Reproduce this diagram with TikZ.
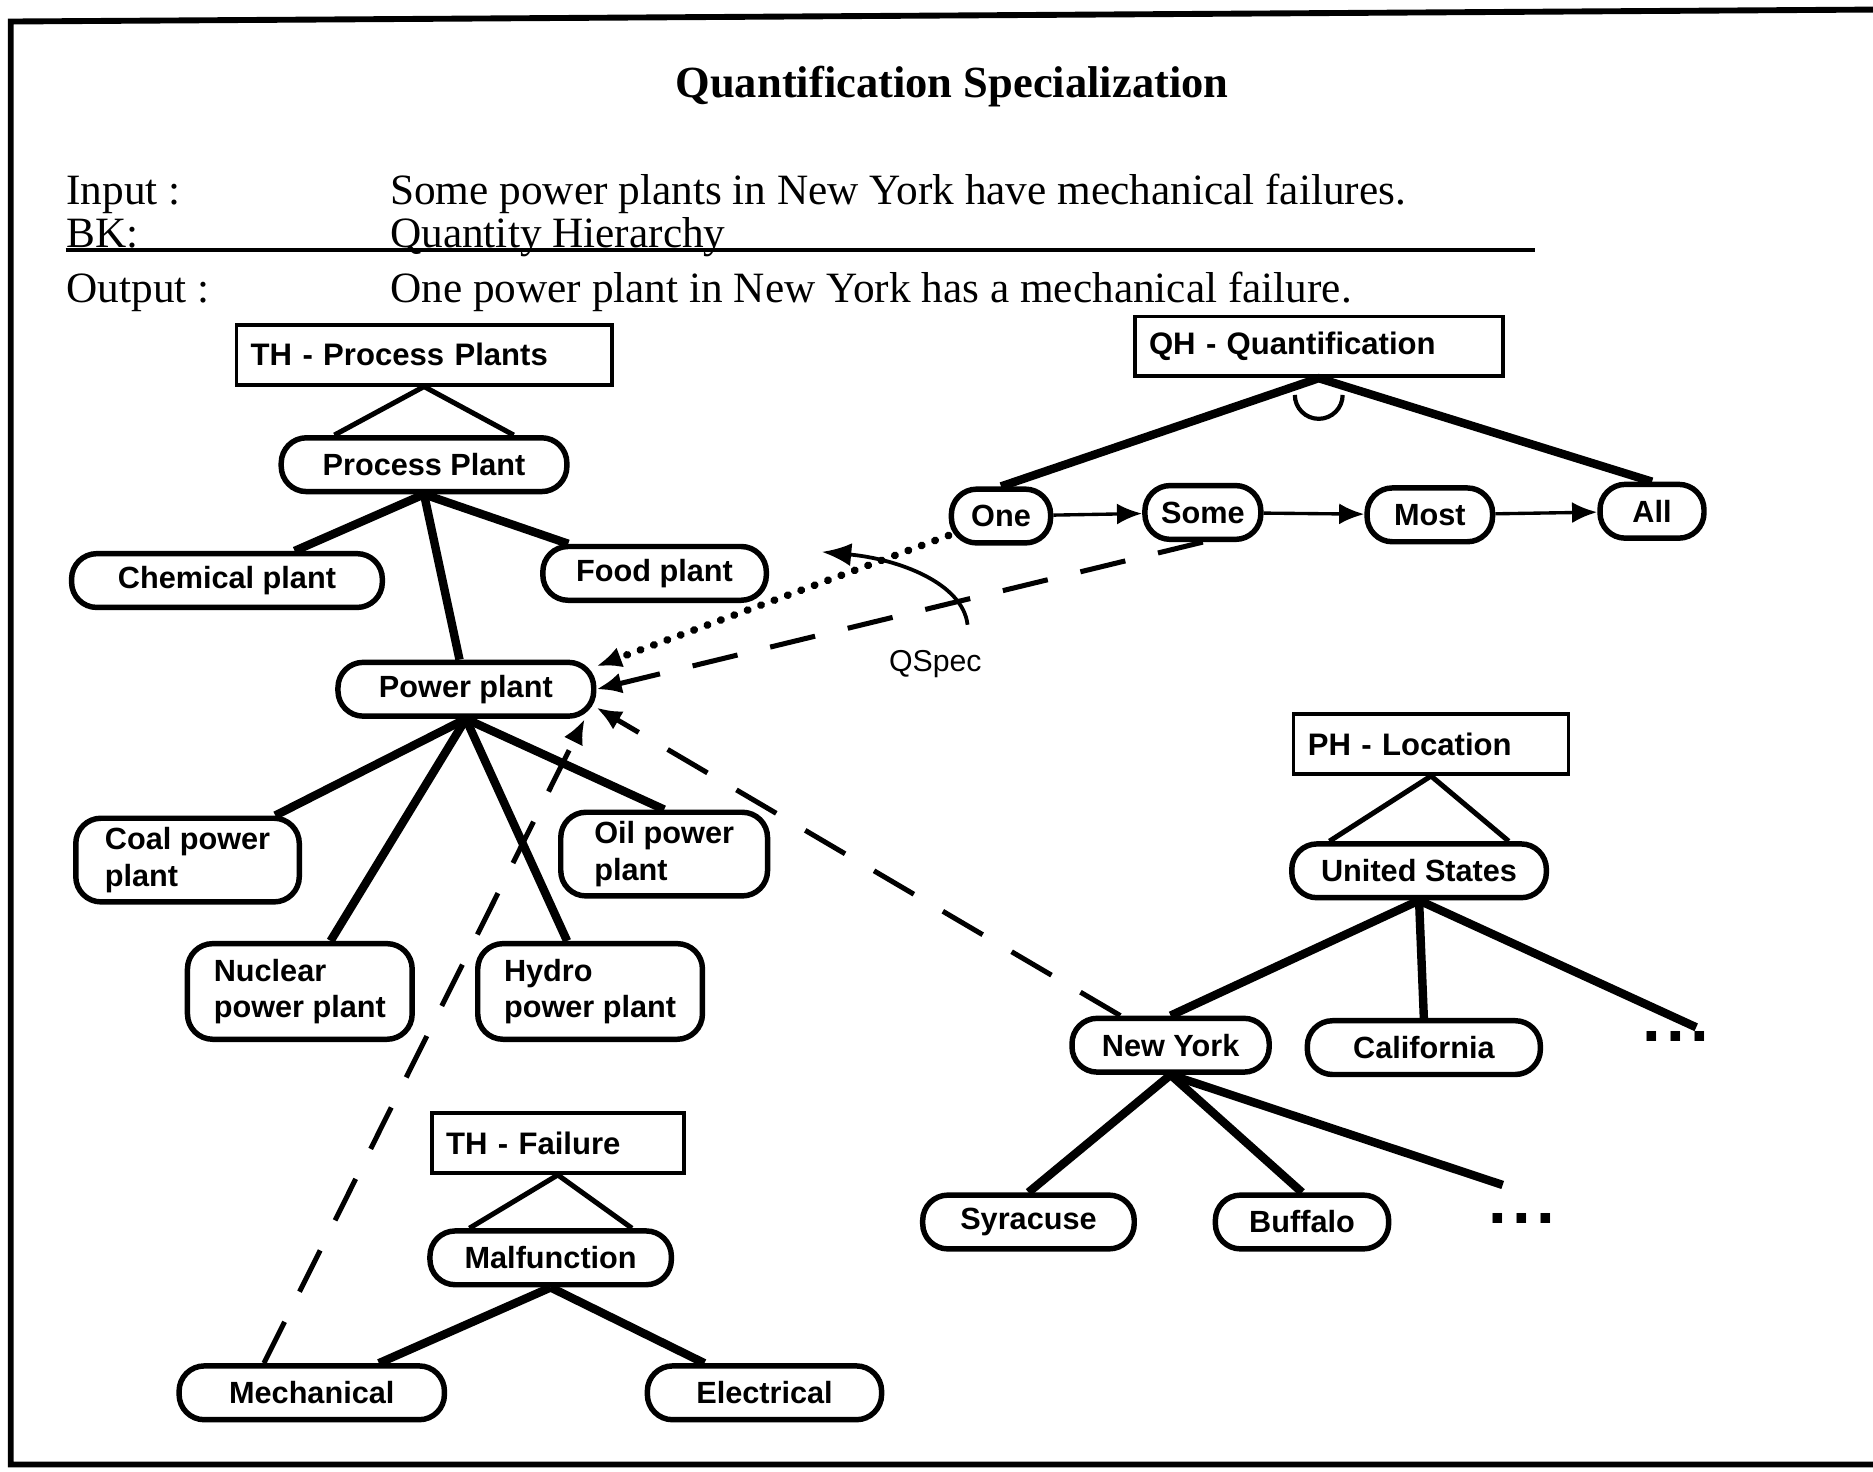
\documentclass[tikz,border=0pt]{standalone}
\usepackage{fontspec}
\setmainfont{Liberation Serif}
\newfontfamily\nodefont{Liberation Sans}
\usepackage{tikz}
\usetikzlibrary{arrows.meta}

\tikzset{
	hier/.style={draw, rectangle, line width=0.9pt, align=left, inner xsep=0.12cm,
		minimum height=0.5cm, font=\nodefont\bfseries\fontsize{7.4}{8.8}\selectfont},
	concept/.style={draw, rounded corners=6pt, line width=1.3pt, align=left, inner sep=2pt,
		minimum height=0.45cm, font=\nodefont\bfseries\fontsize{7.3}{8.6}\selectfont},
	dots/.style={inner sep=0pt, font=\nodefont\bfseries\fontsize{16}{16}\selectfont},
	hdr/.style={anchor=base west, inner sep=0pt, font=\fontsize{10.3}{12}\selectfont},
	tri/.style={line width=1.2pt},
	isa/.style={line width=2pt},
	seq/.style={line width=0.8pt, -{Latex[length=6pt,width=5pt]}},
	qdash/.style={line width=1.2pt, dash pattern=on 11pt off 8pt, -{Latex[length=6pt,width=5pt]}},
	qdot/.style={line width=1.8pt, line cap=round, dash pattern=on 0.1pt off 3.3pt, -{Latex[length=6pt,width=5pt]}}
}

\begin{document}
\begin{tikzpicture}[x=0.01cm, y=-0.01cm]
	\useasboundingbox (0,0) rectangle (1568,1232);
	\draw[line width=1.4pt] (1568,8) -- (9,18) -- (9,1226) -- (1568,1226);

	\node (title) at (797,82) [anchor=base, inner sep=0pt, font=\bfseries\fontsize{10.6}{12}\selectfont] {Quantification Specialization};
	\node (inlab) at (55,171) [hdr] {Input :};
	\node (intext) at (326,171) [hdr] {Some power plants in New York have mechanical failures.};
	\node (bklab) at (55,207) [hdr] {BK:};
	\node (bktext) at (326,207) [hdr] {Quantity Hierarchy};
	\node (outlab) at (55,253) [hdr] {Output :};
	\node (outtext) at (326,253) [hdr] {One power plant in New York has a mechanical failure.};
	\draw[line width=0.9pt] (55,209) -- (1285,209);

	% process plants
	\node (hp) at (355,297) [hier, text width=2.9cm] {TH - Process Plants};
	\node (pp) at (355,389) [concept, minimum width=2.39cm] {Process Plant};
	\node (chem) at (190,486) [concept, minimum width=2.6cm] {Chemical plant};
	\node (food) at (548,480) [concept, minimum width=1.87cm] {Food plant};
	\node (pw) at (390,577) [concept, minimum width=2.14cm] {Power plant};
	\node (coal) at (157,720) [concept, minimum width=1.87cm, minimum height=0.7cm] {Coal power\\plant};
	\node (oil) at (556,715) [concept, minimum width=1.73cm, minimum height=0.7cm] {Oil power\\plant};
	\node (nuc) at (251,830) [concept, minimum width=1.88cm, minimum height=0.8cm] {Nuclear\\power plant};
	\node (hyd) at (494,830) [concept, minimum width=1.88cm, minimum height=0.8cm] {Hydro\\power plant};
	\draw[tri] ([xshift=-0.75cm]pp.north) -- (hp.south) -- ([xshift=0.75cm]pp.north);
	\foreach \c in {chem,food,pw} \draw[isa] (pp.south) -- (\c);
	\foreach \c in {coal,nuc,hyd,oil.north} \draw[isa] (pw.south) -- (\c);

	% failure
	\node (tf) at (467,957) [hier, text width=1.87cm] {TH - Failure};
	\node (mal) at (461,1053) [concept, minimum width=2.02cm] {Malfunction};
	\node (mech) at (261,1166) [concept, minimum width=2.22cm] {Mechanical};
	\node (elec) at (640,1166) [concept, minimum width=1.96cm] {Electrical};
	\draw[tri] ([xshift=-0.68cm]mal.north) -- (tf.south) -- ([xshift=0.68cm]mal.north);
	\foreach \c in {mech,elec} \draw[isa] (mal.south) -- (\c);

	% quantification
	\node (qh) at (1104,290) [hier, text width=2.84cm] {QH - Quantification};
	\node (one) at (838,432) [concept, minimum width=0.83cm] {One};
	\node (some) at (1007,429) [concept, minimum width=0.97cm] {Some};
	\node (most) at (1197,431) [concept, minimum width=1.05cm] {Most};
	\node (all) at (1383,428) [concept, minimum width=0.87cm] {All};
	\draw[isa] (one.north) -- (qh.south) -- (all.north);
	\draw[line width=1pt] ([xshift=-0.2cm]qh.south) ++(0,14) arc[start angle=180, end angle=360, radius=0.2cm];
	\foreach \a/\b in {one/some,some/most,most/all} \draw[seq] (\a) -- (\b);

	% location
	\node (pl) at (1198,623) [hier, text width=2.06cm] {PH - Location};
	\node (us) at (1188,729) [concept, minimum width=2.13cm] {United States};
	\node (ny) at (980,875) [concept, minimum width=1.65cm] {New York};
	\node (cal) at (1192,877) [concept, minimum width=1.95cm] {California};
	\node (usdots) at (1403,868) [dots] {.\hspace{1.2pt}.\hspace{1.2pt}.};
	\node (syr) at (861,1023) [concept, minimum width=1.77cm] {Syracuse};
	\node (buf) at (1090,1023) [concept, minimum width=1.45cm] {Buffalo};
	\node (nydots) at (1274,1020) [dots] {.\hspace{1.2pt}.\hspace{1.2pt}.};
	\coordinate (usmore) at (1420,860);
	\coordinate (nymore) at (1258,992);
	\draw[tri] ([xshift=-0.75cm]us.north) -- (pl.south) -- ([xshift=0.75cm]us.north);
	\foreach \c in {ny.north,cal.north,usmore} \draw[isa] (us.south) -- (\c);
	\foreach \c in {syr.north,buf.north,nymore} \draw[isa] (ny.south) -- (\c);

	% specialization links
	\draw[qdot] (one) -- (pw.10);
	\draw[qdash] (some.south) -- (pw.0);
	\draw[qdash] (ny) -- (pw.-8);
	\draw[qdash] ([xshift=-0.4cm]mech.north) -- (pw.-14);
	\coordinate (qsfrom) at (810,523);
	\coordinate (qsto) at (688,462);
	\draw[line width=0.9pt, -{Latex[length=7pt,width=5.5pt]}] (qsfrom) .. controls (806,488) and (752,468) .. (qsto);
	\node (qspec) at (783,556) [font=\nodefont\fontsize{7.2}{8}\selectfont] {QSpec};
\end{tikzpicture}
\end{document}
